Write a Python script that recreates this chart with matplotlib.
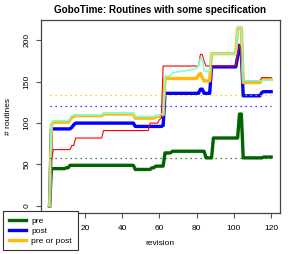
import matplotlib
matplotlib.use('Agg')
import matplotlib.pyplot as plt
import numpy as np

plt.rcParams['font.family'] = ['Liberation Sans', 'DejaVu Sans']

# revision numbers 1..120
revision = list(range(1, 121))

pre = ([0] + [45]*8 + [46]*2 + [49]*35 + [44]*9 + [46]*2 + [48]*5 + [64]*4 +
       [66]*18 + [58]*4 + [82]*14 + [111]*2 + [58]*11 + [59]*5)

post = ([0] + [93]*11 + [95, 98] + [100]*32 + [96]*15 + [97] + [136]*19 +
        [141]*2 + [136]*4 + [168]*14 + [180, 194, 185] + [133]*10 + [137] + [138]*5)

pre_or_post = ([0, 98] + [101]*9 + [104, 107, 108] + [109]*15 + [111]*17 +
               [106]*11 + [108]*3 + [110]*2 + [154]*18 + [158, 160, 155] +
               [151]*4 + [184]*14 + [215]*3 + [149]*10 + [153]*6)

# thin extra series
pre_and_post = ([0, 55] + [68]*10 + [73, 73] + [82]*15 + [91]*25 + [100]*5 +
                [104, 106] + [169]*20 + [183]*2 + [175] + [169]*3 + [169]*14 +
                [185, 194, 188] + [151]*10 + [155]*6)

spec_any = ([0, 100] + [103]*9 + [106, 109, 110] + [110]*15 + [112]*17 +
            [108]*11 + [109]*3 + [111]*2 + [157]*4 +
            [161, 161, 162, 162, 162, 163, 163, 163, 164, 164, 165, 165, 166, 166] +
            [170] + [178]*2 + [163]*4 + [184]*14 + [215]*3 + [151]*10 + [152]*6)

mean_pre = 58
mean_post = 121
mean_pre_or_post = 134

xticks = [0, 20, 40, 60, 80, 100, 120]
xticklabels = ['', '20', '40', '60', '80', '100', '120']  # "0" sits under the legend
yticks = [0, 50, 100, 150, 200]

fig = plt.figure(figsize=(2.94, 2.54), dpi=100)
ax = fig.add_axes([40.7/294, 1-213/254, (280-40.7)/294, (213-20)/254])

thick = 2.4
ax.plot(revision, pre, color='darkgreen', lw=thick)
ax.plot(revision, post, color='blue', lw=thick)
ax.plot(revision, pre_or_post, color='#FFB90F', lw=thick)
ax.plot(revision, pre_and_post, color='red', lw=0.8)
ax.plot(revision, spec_any, color='aquamarine', lw=1.2)

for m, c in [(mean_pre, 'darkgreen'), (mean_post, 'blue'), (mean_pre_or_post, '#FFB90F')]:
    ax.plot([revision[0], revision[-1]], [m, m], color=c, lw=0.9, ls=(0, (1, 3)))

ax.set_xlim(-3.76, 124.76)
ax.set_ylim(-8.64, 224.64)
ax.set_xticks(xticks)
ax.set_xticklabels(xticklabels)
ax.set_yticks(yticks)
ax.set_yticklabels([str(v) for v in yticks], rotation=90, va='center')
ax.tick_params(labelsize=6.0, length=3.3, width=0.8, color='#555555')
ax.tick_params(axis='x', pad=5)
ax.tick_params(axis='y', pad=4)
for s in ax.spines.values():
    s.set_color('#444444')
    s.set_linewidth(0.9)

ax.set_title('GoboTime: Routines with some specification', fontsize=7.1,
             fontweight='bold', pad=5)
ax.set_xlabel('revision', fontsize=6.0, labelpad=6)
ax.set_ylabel('# routines', fontsize=6.0, labelpad=8)

h1, = ax.plot([], [], color='darkgreen', lw=thick)
h2, = ax.plot([], [], color='blue', lw=thick)
h3, = ax.plot([], [], color='#FFB90F', lw=thick)
leg = fig.legend([h1, h2, h3], ['pre', 'post', 'pre or post'], loc='upper left',
                 bbox_to_anchor=(3/294, 1-211/254), fontsize=6.0, frameon=True,
                 fancybox=False, edgecolor='#333333', framealpha=1,
                 handlelength=2.1, handletextpad=0.6, labelspacing=0.26,
                 borderpad=0.7, borderaxespad=0)
leg.get_frame().set_linewidth(0.8)

fig.savefig('out.png', dpi=100)
